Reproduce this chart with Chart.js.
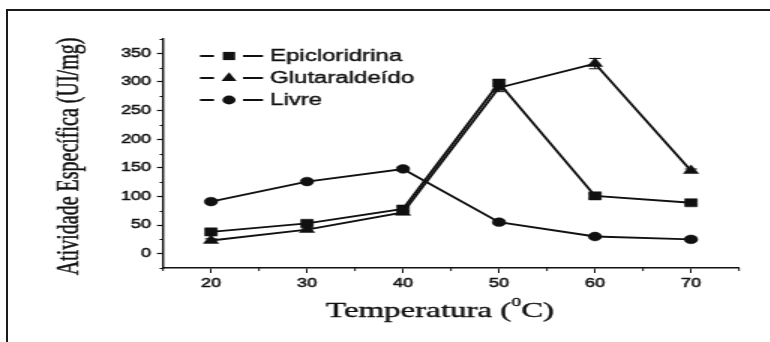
<!DOCTYPE html>
<html>
<head>
<meta charset="utf-8">
<script src="https://cdn.jsdelivr.net/npm/chart.js@4.4.1/dist/chart.umd.min.js"></script>
<style>
  html, body { margin: 0; padding: 0; background: #fff; overflow: hidden; }
  #frame { position: absolute; left: 6px; top: 9px; width: 790px; height: 360px;
           border-top: 2px solid #1a1a1a; border-left: 2px solid #1a1a1a; }
  canvas { position: absolute; left: 0; top: 0; transform-origin: 0 0; }
</style>
</head>
<body>
<div id="frame"></div>
<canvas id="chart"></canvas>
<script>
// data
const temperatures = [20, 30, 40, 50, 60, 70];
const epicloridrina = [38, 53, 78, 298, 101, 89];
const glutaraldeido = [23, 42, 72, 290, 332, 145];
const livre = [91, 126, 148, 55, 30, 25];
const epiErr = [3, 3, 4, 5, 4, 3];
const glutErr = [3, 3, 3, 7, 9, 3];
const livreErr = [2, 2, 3, 3, 2, 2];
const seriesNames = ['Epicloridrina', 'Glutaraldeído', 'Livre'];
const yTickLabels = [0, 50, 100, 150, 200, 250, 300, 350];
const xTickLabels = [20, 30, 40, 50, 60, 70];

// the original picture is stretched sideways, so draw narrow and scale the canvas
const S = 1.5;
const W = Math.round(770 / S), H = 342;
const canvas = document.getElementById('chart');
canvas.width = W;
canvas.height = H;
canvas.style.transform = 'scaleX(' + S + ')';

const INK = '#111';
const sans = "'Liberation Sans', Arial, sans-serif";
const serif = "'Liberation Serif', 'Times New Roman', serif";

const markers = [
    { style: 'rect', radius: 5.8 },
    { style: 'triangle', radius: 5.8 },
    { style: 'circle', radius: 4.4 }
];
const values = [epicloridrina, glutaraldeido, livre];
const errors = [epiErr, glutErr, livreErr];

const datasets = values.map((vals, i) => ({
    label: seriesNames[i],
    data: temperatures.map((t, j) => ({ x: t, y: vals[j] })),
    borderColor: INK,
    backgroundColor: INK,
    borderWidth: 1.9,
    pointStyle: markers[i].style,
    pointRadius: markers[i].radius,
    pointBackgroundColor: INK,
    pointBorderColor: INK,
    pointBorderWidth: 0.5,
    tension: 0
}));

function drawMarker(ctx, style, r, x, y) {
    ctx.beginPath();
    if (style === 'rect') {
        const s = Math.SQRT1_2 * r;
        ctx.rect(x - s, y - s, 2 * s, 2 * s);
    } else if (style === 'triangle') {
        ctx.moveTo(x, y - r);
        ctx.lineTo(x + Math.sin(Math.PI * 2 / 3) * r, y - Math.cos(Math.PI * 2 / 3) * r);
        ctx.lineTo(x - Math.sin(Math.PI * 2 / 3) * r, y - Math.cos(Math.PI * 2 / 3) * r);
        ctx.closePath();
    } else {
        ctx.arc(x, y, r, 0, Math.PI * 2);
    }
    ctx.fill();
}

function heavyText(ctx, text, x, y) {
    ctx.fillText(text, x, y);
    ctx.strokeText(text, x, y);
}

const extras = {
    id: 'extras',
    afterDatasetsDraw(chart) {
        // error bars
        const { ctx, scales: { x, y } } = chart;
        ctx.save();
        ctx.strokeStyle = INK;
        ctx.lineWidth = 1;
        errors.forEach((errs, i) => {
            temperatures.forEach((t, j) => {
                const px = x.getPixelForValue(t);
                const top = y.getPixelForValue(values[i][j] + errs[j]);
                const bot = y.getPixelForValue(values[i][j] - errs[j]);
                ctx.beginPath();
                ctx.moveTo(px, top); ctx.lineTo(px, bot);
                ctx.moveTo(px - 4, top); ctx.lineTo(px + 4, top);
                ctx.moveTo(px - 4, bot); ctx.lineTo(px + 4, bot);
                ctx.stroke();
            });
        });
        ctx.restore();
    },
    afterDraw(chart) {
        const { ctx, scales: { x, y } } = chart;
        ctx.save();
        ctx.strokeStyle = INK;
        ctx.fillStyle = INK;

        // minor ticks
        ctx.lineWidth = 1;
        ctx.beginPath();
        y.ticks.forEach(t => {
            if (!yTickLabels.includes(t.value)) {
                const py = Math.round(y.getPixelForValue(t.value)) + 0.5;
                ctx.moveTo(x.left - 2.2, py); ctx.lineTo(x.left, py);
            }
        });
        x.ticks.forEach(t => {
            if (!xTickLabels.includes(t.value)) {
                const px = x.getPixelForValue(t.value);
                ctx.moveTo(px, y.bottom); ctx.lineTo(px, y.bottom + 3);
            }
        });
        ctx.stroke();

        // legend
        ctx.lineWidth = 1.9;
        ctx.textBaseline = 'middle';
        ctx.textAlign = 'left';
        const rows = [56, 78, 100];
        seriesNames.forEach((name, i) => {
            const ly = rows[i];
            ctx.lineWidth = 1.9;
            ctx.beginPath();
            ctx.moveTo(200 / S, ly); ctx.lineTo(214 / S, ly);
            ctx.moveTo(243 / S, ly); ctx.lineTo(263 / S, ly);
            ctx.stroke();
            drawMarker(ctx, markers[i].style, markers[i].radius, 229 / S, ly);
            ctx.font = '16px ' + sans;
            ctx.lineWidth = 0.4;
            heavyText(ctx, name, 270 / S, ly + 1);
        });

        // x title with superscript zero
        ctx.lineWidth = 0.4;
        const xc = 440 / S, yc = 311;
        const partA = 'Temperatura (', sup = '0', partB = 'C)';
        ctx.font = '22px ' + serif;
        const wA = ctx.measureText(partA).width, wB = ctx.measureText(partB).width;
        ctx.font = '13px ' + serif;
        const wS = ctx.measureText(sup).width;
        let sx = xc - (wA + wS + wB) / 2;
        ctx.font = '22px ' + serif;
        heavyText(ctx, partA, sx, yc);
        ctx.font = '13px ' + serif;
        heavyText(ctx, sup, sx + wA, yc - 8);
        ctx.font = '22px ' + serif;
        heavyText(ctx, partB, sx + wA + wS, yc);

        // y title
        ctx.translate(70 / S, 156.5);
        ctx.rotate(-Math.PI / 2);
        ctx.textAlign = 'center';
        ctx.font = '20px ' + serif;
        heavyText(ctx, 'Atividade Específica (UI/mg)', 0, 0);
        ctx.restore();
    }
};

new Chart(canvas, {
    type: 'line',
    data: { datasets },
    options: {
        responsive: false,
        animation: false,
        layout: { padding: { left: 0, right: W - 739 / S, top: 39, bottom: 0 } },
        plugins: { legend: { display: false }, tooltip: { enabled: false } },
        scales: {
            x: {
                type: 'linear',
                min: 15,
                max: 75,
                afterFit: s => { s.height = H - 268; },
                ticks: {
                    stepSize: 5,
                    autoSkip: false,
                    maxRotation: 0,
                    padding: 3,
                    color: INK,
                    textStrokeColor: INK,
                    textStrokeWidth: 0.5,
                    font: { family: sans, size: 12 },
                    callback: v => xTickLabels.includes(v) ? v : ''
                },
                grid: {
                    drawOnChartArea: false,
                    tickLength: 5,
                    tickWidth: 1,
                    tickColor: c => xTickLabels.includes(c.tick.value) ? INK : 'transparent'
                },
                border: { color: INK, width: 1.5 }
            },
            y: {
                min: -25,
                max: 375,
                afterFit: s => { s.width = 163 / S; },
                ticks: {
                    stepSize: 25,
                    autoSkip: false,
                    padding: 4,
                    color: INK,
                    textStrokeColor: INK,
                    textStrokeWidth: 0.5,
                    font: { family: sans, size: 12 },
                    callback: v => yTickLabels.includes(v) ? v : ''
                },
                grid: {
                    drawOnChartArea: false,
                    tickLength: 4,
                    tickWidth: 1.2,
                    tickColor: c => yTickLabels.includes(c.tick.value) ? INK : 'transparent'
                },
                border: { color: INK, width: 1.4 }
            }
        }
    },
    plugins: [extras]
});
</script>
</body>
</html>
